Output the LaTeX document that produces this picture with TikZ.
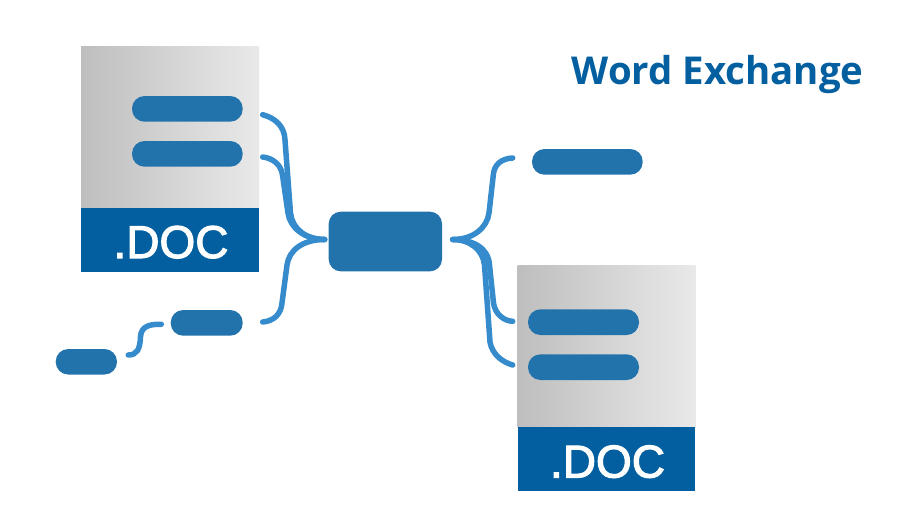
\documentclass[tikz,border=0pt]{standalone}
\usepackage{fontspec}
\setmainfont{Open Sans}
\newfontfamily\docfont[FakeBold=2.4]{Liberation Sans}
\definecolor{pillblue}{HTML}{2272AC}
\definecolor{linkblue}{HTML}{358BCB}
\definecolor{bandblue}{HTML}{035F9F}
\definecolor{grayL}{HTML}{BEBEBE}
\definecolor{grayR}{HTML}{E9E9E9}
\tikzset{
  x=1pt,y=-1pt,
  pill/.style={fill=pillblue,rounded corners=12.5pt,inner sep=0pt},
  page/.style={left color=grayL,right color=grayR,draw=none},
  band/.style={fill=bandblue,draw=none},
  doctext/.style={text=white,font=\docfont\fontsize{46}{46}\selectfont},
  link/.style={draw=linkblue,line width=5.5pt,line cap=round,fill=none},
}
\begin{document}
\begin{tikzpicture}
\useasboundingbox (0,0) rectangle (907,515);
% documents
\path[page] (81,46) rectangle (259,208);
\path[band] (81,208) rectangle (259,271.6);
\node[doctext,anchor=base] (doca) at (171,258) {.DOC};
\path[page] (517.5,265.3) rectangle (695.3,427.3);
\path[band] (517.5,427.3) rectangle (695.3,491.3);
\node[doctext,anchor=base] (docb) at (607.5,477.5) {.DOC};
% pills
\fill[pill] (132,96) rectangle (242.7,121.7);
\fill[pill] (132,141) rectangle (242.7,166.7);
\fill[pill] (170.7,310) rectangle (242.7,335.7);
\fill[pill] (55.7,349) rectangle (117,374.5);
\fill[pill] (532,149) rectangle (642.7,174.7);
\fill[pill] (528,309.3) rectangle (639,335);
\fill[pill] (528,354.3) rectangle (639,380);
\fill[pill,rounded corners=12pt] (328.7,211.7) rectangle (442,271.3);
% connector ends
\coordinate (cl) at (324.7,239.5);
\coordinate (cr) at (452.7,239.5);
\coordinate (a1) at (262.7,114.7);
\coordinate (a2) at (262.7,157);
\coordinate (a3) at (262.7,322);
\coordinate (b1) at (512.7,158);
\coordinate (b2) at (512.7,321.3);
\coordinate (b3) at (512.7,365);
\coordinate (s1) at (161.3,324.3);
\coordinate (s2) at (128.3,355);
% left brace
\draw[link] (a1) .. controls (275,118) and (284.5,126) .. (285,140) -- (290.5,213) .. controls (292,228) and (305,239.5) .. (cl);
\draw[link] (a2) .. controls (272,158) and (281,164) .. (282.5,175) -- (288,213) .. controls (290,228) and (305,239.5) .. (cl);
\draw[link] (a3) .. controls (274,321) and (281,314) .. (282,303) -- (287,265) .. controls (289,250) and (303,239.5) .. (cl);
% small link
\draw[link] (s1) .. controls (150,324) and (141,326) .. (140.5,337) .. controls (140,349) and (137,355) .. (s2);
% right brace
\draw[link] (b1) .. controls (501,158.5) and (494,165) .. (493.3,175) -- (489,213) .. controls (487,228) and (473,239.5) .. (cr);
\draw[link] (cr) .. controls (473,239.5) and (488.5,248) .. (489.5,265) -- (493.5,303) .. controls (495,314) and (504,321) .. (b2);
\draw[link] (cr) .. controls (470,239.5) and (483,250) .. (484.5,265) -- (490,342) .. controls (492,354) and (502,362) .. (b3);
% title
\node[anchor=base east,text=bandblue,font=\bfseries\fontsize{38.4}{38.4}\selectfont] (title) at (867,84.5) {Word Exchange};
\end{tikzpicture}
\end{document}
